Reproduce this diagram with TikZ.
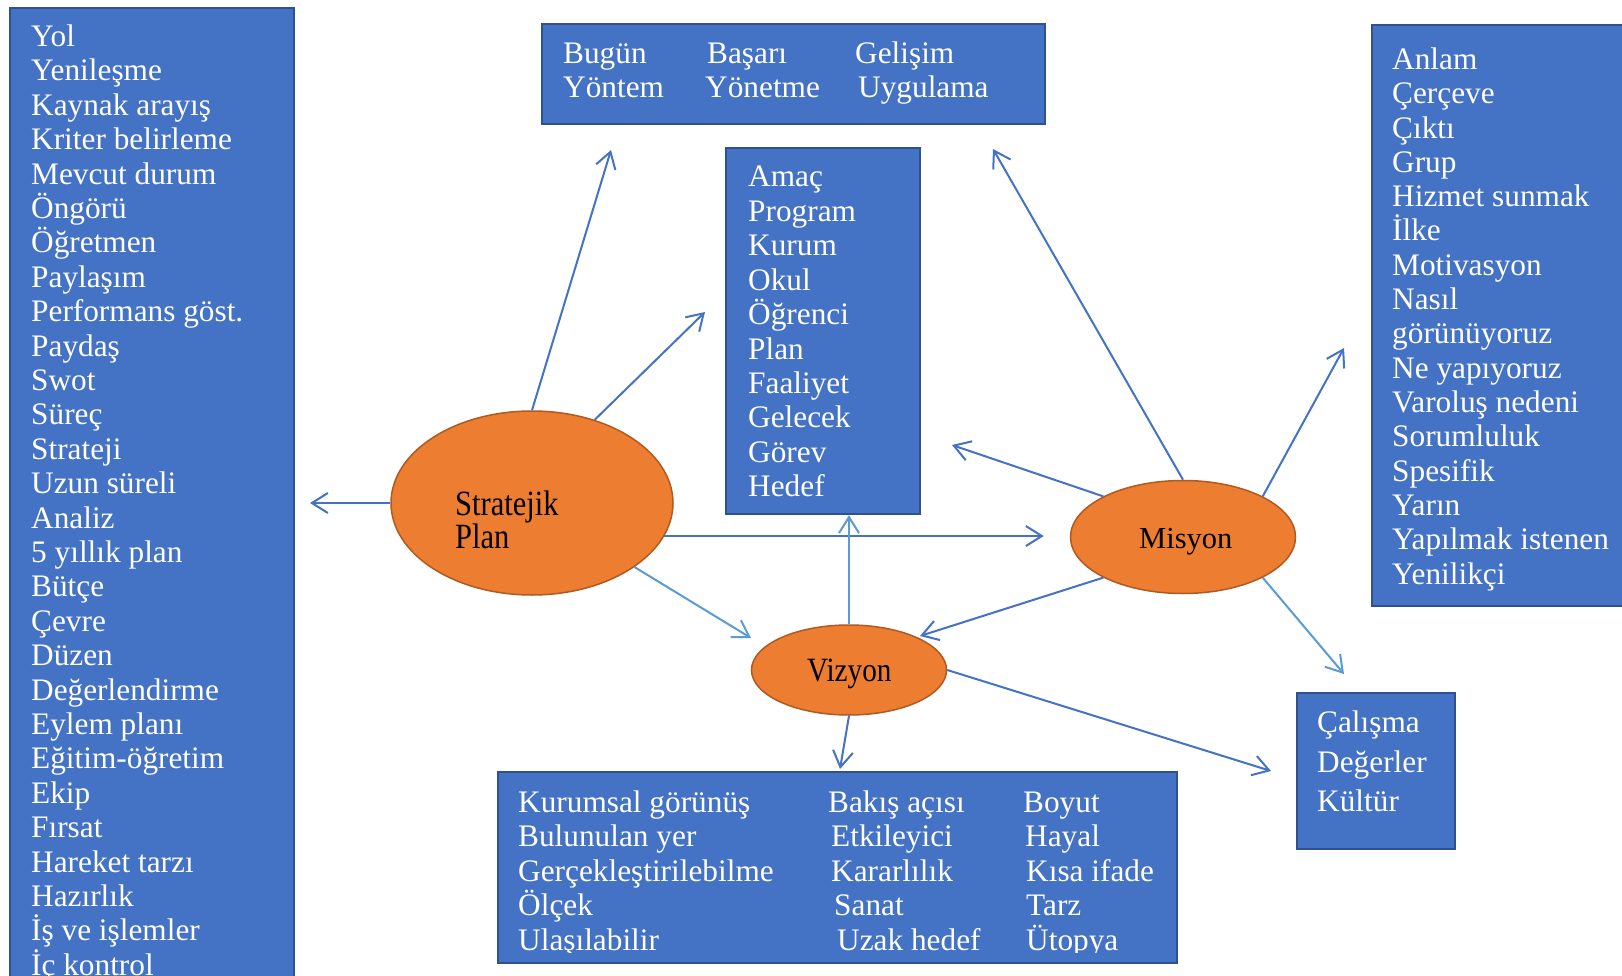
\documentclass[tikz,border=0pt]{standalone}
\usepackage{fontspec}
\setmainfont{Liberation Serif}
\newfontfamily\ovalfont[FakeStretch=0.86]{Liberation Serif}
\usetikzlibrary{arrows.meta, positioning, shapes.geometric}

\definecolor{boxblue}{HTML}{4472C4}
\definecolor{boxedge}{HTML}{2F528F}
\definecolor{lineblue}{HTML}{4472C4}
\definecolor{lightline}{HTML}{5B9BD5}
\definecolor{ovalfill}{HTML}{ED7D31}
\definecolor{ovaledge}{HTML}{AE5A21}

\tikzset{
  box/.style={draw=boxedge, fill=boxblue, line width=2.2pt, inner sep=0pt, anchor=north west},
  oval/.style={ellipse, draw=ovaledge, fill=ovalfill, line width=1.5pt, inner sep=0pt},
  word/.style={text=white, anchor=base west, inner sep=0pt, font=\fontsize{31.3}{34}\selectfont},
  ovalword/.style={anchor=base west, inner sep=0pt, font=\ovalfont\fontsize{34}{38}\selectfont},
  misword/.style={anchor=base west, inner sep=0pt, font=\fontsize{30.5}{34}\selectfont},
  arr/.style={draw=lineblue, line width=2pt, -{Straight Barb[length=16pt,width=20pt]}},
  arrlight/.style={arr, draw=lightline},
}

\begin{document}
\begin{tikzpicture}[x=1pt, y=-1pt]

\clip (0,0) rectangle (1622,976);
\fill[white] (0,0) rectangle (1622,976);

% boxes
\node[box, minimum width=284pt, minimum height=1000pt] (leftbox) at (9,7) {};
\node[box, minimum width=503pt, minimum height=100pt] (topbox) at (541,23) {};
\node[box, minimum width=194pt, minimum height=366pt] (midbox) at (725,147) {};
\node[box, minimum width=280pt, minimum height=581pt] (rightbox) at (1371,24) {};
\node[box, minimum width=679pt, minimum height=191pt] (botbox) at (497,771) {};
\node[box, minimum width=158pt, minimum height=156pt] (valbox) at (1296,692) {};

% left list
\foreach \w [count=\i from 0] in {Yol, Yenileşme, Kaynak arayış, Kriter belirleme,
  Mevcut durum, Öngörü, Öğretmen, Paylaşım, Performans göst., Paydaş, Swot, Süreç,
  Strateji, Uzun süreli, Analiz, 5 yıllık plan, Bütçe, Çevre, Düzen, Değerlendirme,
  Eylem planı, Eğitim-öğretim, Ekip, Fırsat, Hareket tarzı, Hazırlık,
  İş ve işlemler, İç kontrol}
  \node[word] (left\i) at (31, {46.5+\i*34.4}) {\w};

% top box
\foreach \x/\y/\w [count=\i] in {563/64/Bugün, 563/98/Yöntem, 707/64/Başarı,
  705/98/Yönetme, 855/64/Gelişim, 858/98/Uygulama}
  \node[word] (top\i) at (\x,\y) {\w};

% middle box
\foreach \w [count=\i from 0] in {Amaç, Program, Kurum, Okul, Öğrenci, Plan,
  Faaliyet, Gelecek, Görev, Hedef}
  \node[word] (mid\i) at (748, {187+\i*34.4}) {\w};

% right box
\foreach \w [count=\i from 0] in {Anlam, Çerçeve, Çıktı, Grup, Hizmet sunmak, İlke,
  Motivasyon, Nasıl, görünüyoruz, Ne yapıyoruz, Varoluş nedeni, Sorumluluk,
  Spesifik, Yarın, Yapılmak istenen, Yenilikçi}
  \node[word] (right\i) at (1392, {69.5+\i*34.3}) {\w};

% bottom box
\begin{scope}
\clip (497,771) rectangle (1176,952);
\foreach \w [count=\i from 0] in {Kurumsal görünüş, Bulunulan yer,
  Gerçekleştirilebilme, Ölçek, Ulaşılabilir}
  \node[word] (bota\i) at (518, {812+\i*34.5}) {\w};
\foreach \x/\w [count=\i from 0] in {828/Bakış açısı, 831/Etkileyici,
  831/Kararlılık, 834/Sanat, 837/Uzak hedef}
  \node[word] (botb\i) at (\x, {812+\i*34.5}) {\w};
\foreach \x/\w [count=\i from 0] in {1023/Boyut, 1025/Hayal, 1026/Kısa ifade,
  1026/Tarz, 1026/Ütopya}
  \node[word] (botc\i) at (\x, {812+\i*34.5}) {\w};
\end{scope}

% values box
\node[word] (val1) at (1317,732) {Çalışma};
\node[word] (val2) at (1317,772) {Değerler};
\node[word] (val3) at (1317,811) {Kültür};

% ovals
\node[oval, minimum width=282pt, minimum height=184pt] (strat) at (532,503) {};
\node[oval, minimum width=225pt, minimum height=113pt] (mis) at (1183,537) {};
\node[oval, minimum width=195pt, minimum height=90pt] (viz) at (849,670) {};

\node[ovalword, font=\ovalfont\fontsize{35.5}{38}\selectfont] (strat1) at (455,515) {Stratejik};
\node[ovalword, font=\ovalfont\fontsize{35.5}{38}\selectfont] (strat2) at (455,548) {Plan};
\node[misword] (mistext) at (1139,548) {Misyon};
\node[ovalword] (viztext) at (807,681) {Vizyon};

% arrow ends
\coordinate (tipL) at (310,503);
\coordinate (tipA) at (611,150);
\coordinate (tipB) at (705,312);
\coordinate (tipH) at ([xshift=-26pt]mis.west);
\coordinate (tipV) at (751,638);
\coordinate (tipC) at (993,149);
\coordinate (tipD) at (952,445);
\coordinate (tipE) at (1344,348);
\coordinate (tipF) at (920,636);
\coordinate (tipG) at (1344,674);
\coordinate (tipK) at (1271,771);
\coordinate (tipJ) at (840,769);

% arrows
\draw[arr] (strat.west) -- (tipL);
\draw[arr] (strat.north) -- (tipA);
\draw[arr] (strat.53) -- (tipB);
\draw[arr] (strat.-14) -- (strat.-14 -| tipH);
\draw[arrlight] (strat.-32) -- (tipV);
\draw[arrlight] (viz.north) -- (viz.north |- midbox.south);
\draw[arr] (mis.north) -- (tipC);
\draw[arr] (mis.153) -- (tipD);
\draw[arr] (mis.27) -- (tipE);
\draw[arr] (mis.-153) -- (tipF);
\draw[arrlight] (mis.-27) -- (tipG);
\draw[arr] (viz.east) -- (tipK);
\draw[arr] (viz.south) -- (tipJ);

\end{tikzpicture}
\end{document}
